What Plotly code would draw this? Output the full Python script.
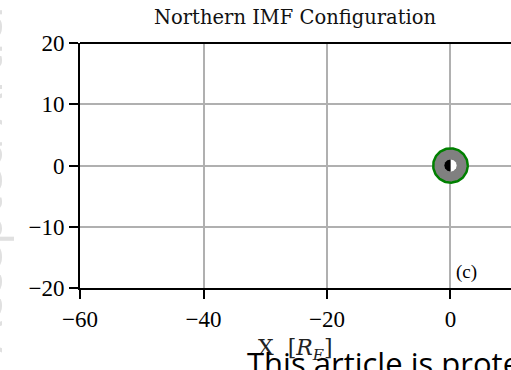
import numpy as np
import plotly.graph_objects as go

# Axis ticks and limits (Earth radii)
x_ticks = [-60, -40, -20, 0]
y_ticks = [-20, -10, 0, 10, 20]
x_range = [-60, 9.8]
y_range = [-20, 20]

# Inner boundary and Earth
shield_radius = 2.8
earth_radius = 1.0
panel_label = "(c)"
panel_label_pos = (2.6, -17.4)

serif = "Liberation Serif"
serif_wide = "DejaVu Serif"


def disk(r, a0=0.0, a1=2 * np.pi, n=120):
    t = np.linspace(a0, a1, n)
    return r * np.cos(t), r * np.sin(t)


fig = go.Figure()

# grey inner-boundary disk
xs, ys = disk(shield_radius)
fig.add_trace(go.Scatter(x=xs, y=ys, mode="lines", fill="toself",
                         fillcolor="#808080", line=dict(color="#808080", width=0),
                         hoverinfo="skip", showlegend=False))
# green outline of the inner boundary
fig.add_trace(go.Scatter(x=xs, y=ys, mode="lines",
                         line=dict(color="#008000", width=2.5),
                         hoverinfo="skip", showlegend=False))
# dayside half of Earth (white)
xs, ys = disk(earth_radius, -np.pi / 2, np.pi / 2)
fig.add_trace(go.Scatter(x=xs, y=ys, mode="lines", fill="toself",
                         fillcolor="white", line=dict(color="white", width=0),
                         hoverinfo="skip", showlegend=False))
# nightside half of Earth (black)
xs, ys = disk(earth_radius, np.pi / 2, 3 * np.pi / 2)
fig.add_trace(go.Scatter(x=xs, y=ys, mode="lines", fill="toself",
                         fillcolor="black", line=dict(color="black", width=0),
                         hoverinfo="skip", showlegend=False))

axis_common = dict(
    showgrid=True, gridcolor="#b0b0b0", gridwidth=1.5,
    showline=True, linecolor="black", linewidth=2,
    ticks="outside", ticklen=9, tickwidth=1.5, tickcolor="black",
    zeroline=False, fixedrange=True,
)

fig.update_xaxes(range=x_range, tickvals=x_ticks,
                 ticktext=["\u221260", "\u221240", "\u221220", "0"],
                 tickfont=dict(family=serif, size=23, color="black"),
                 mirror=False, **axis_common)
fig.update_yaxes(range=y_range, tickvals=y_ticks,
                 ticktext=["\u221220", "\u221210", "0", "10", "20"],
                 tickfont=dict(family=serif, size=23, color="black"),
                 mirror=False, **axis_common)

# top spine
fig.add_shape(type="line", xref="paper", yref="paper", x0=0, x1=1, y0=1, y1=1,
              line=dict(color="black", width=2))

fig.add_annotation(x=panel_label_pos[0], y=panel_label_pos[1], text=panel_label,
                   showarrow=False, font=dict(family=serif, size=19, color="black"))

fig.add_annotation(xref="paper", yref="paper", x=0.5, y=1.0, yshift=12,
                   xanchor="center", yanchor="bottom",
                   text="Northern IMF Configuration", showarrow=False,
                   font=dict(family=serif_wide, size=19.5, color="#111111"))

fig.add_annotation(xref="paper", yref="paper", x=0.5, y=0, yshift=-45,
                   xanchor="center", yanchor="top",
                   text="X&nbsp;&nbsp;[<i>R<sub>E</sub></i>]", showarrow=False,
                   font=dict(family=serif_wide, size=22, color="#222222"))

# journal watermark
fig.add_annotation(xref="paper", yref="paper", x=(245 - 80) / 431, y=(288 - 340) / 245,
                   xanchor="left", yanchor="top",
                   text="This article is protected by copyright. All rights reserved.",
                   showarrow=False,
                   font=dict(family="Open Sans", size=31, color="black"))
fig.add_annotation(xref="paper", yref="paper", x=(-18 - 80) / 431, y=0.5,
                   xanchor="center", yanchor="middle", textangle=-90,
                   text="Accepted Article", showarrow=False,
                   font=dict(family="Open Sans", size=50, color="#e0e0e0"))

fig.update_layout(
    width=511, height=370,
    margin=dict(l=80, r=0, t=43, b=82),
    plot_bgcolor="white", paper_bgcolor="white",
    showlegend=False,
)

fig.write_html("out.html")
